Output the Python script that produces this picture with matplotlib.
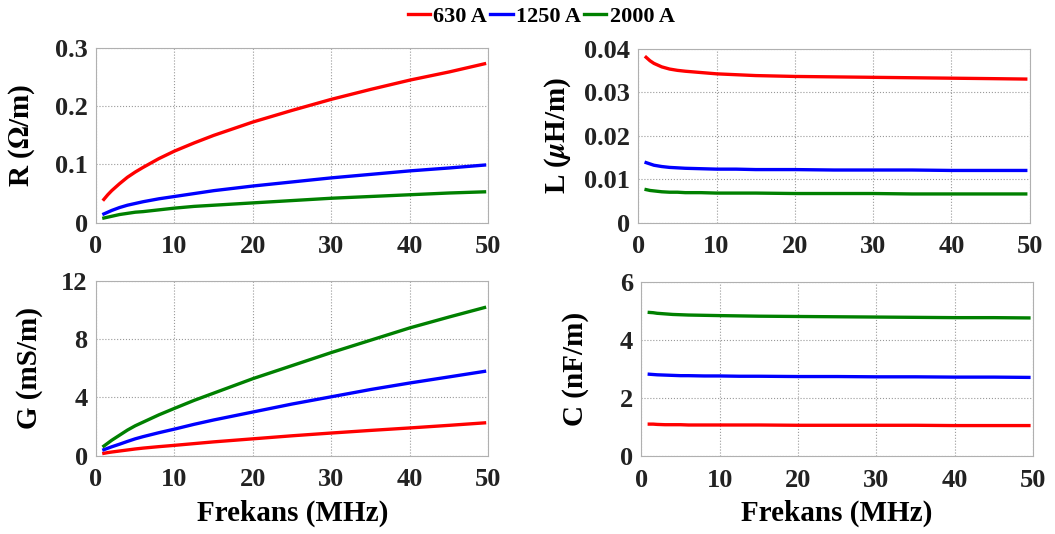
import matplotlib
matplotlib.use("Agg")
import matplotlib.pyplot as plt
from matplotlib.lines import Line2D

plt.rcParams['font.family'] = ['Liberation Serif', 'DejaVu Serif']
plt.rcParams['font.weight'] = 'bold'
plt.rcParams['mathtext.fontset'] = 'stix'

# frequency samples (MHz)
freq = [1, 1.5, 2, 3, 4, 5, 6, 8, 10, 12.5, 15, 20, 25, 30, 35, 40, 45, 49.5]

series_names = ['630 A', '1250 A', '2000 A']
colors = ['#ff0000', '#0000ff', '#008000']

# R (Ohm/m)
R_630 = [0.040, 0.048, 0.055, 0.067, 0.078, 0.087, 0.095, 0.110, 0.123, 0.137, 0.150, 0.173, 0.193, 0.212, 0.229, 0.245, 0.259, 0.273]
R_1250 = [0.015, 0.018, 0.021, 0.026, 0.030, 0.033, 0.036, 0.041, 0.045, 0.050, 0.055, 0.063, 0.070, 0.077, 0.083, 0.089, 0.094, 0.099]
R_2000 = [0.008, 0.0095, 0.011, 0.014, 0.016, 0.018, 0.019, 0.022, 0.025, 0.028, 0.030, 0.034, 0.038, 0.042, 0.045, 0.048, 0.051, 0.053]

# L (uH/m)
L_630 = [0.0380, 0.0372, 0.0366, 0.0358, 0.0353, 0.0350, 0.0348, 0.0345, 0.0342, 0.0340, 0.0338, 0.0336, 0.0335, 0.0334, 0.0333, 0.0332, 0.0331, 0.0330]
L_1250 = [0.0138, 0.0135, 0.0132, 0.0129, 0.0127, 0.0126, 0.0125, 0.0124, 0.0123, 0.0123, 0.0122, 0.0122, 0.0121, 0.0121, 0.0121, 0.0120, 0.0120, 0.0120]
L_2000 = [0.0076, 0.0074, 0.0073, 0.0071, 0.0070, 0.0070, 0.0069, 0.0069, 0.0068, 0.0068, 0.0068, 0.0067, 0.0067, 0.0067, 0.0066, 0.0066, 0.0066, 0.0066]

# G (mS/m)
G_630 = [0.15, 0.20, 0.24, 0.31, 0.38, 0.45, 0.51, 0.61, 0.70, 0.82, 0.94, 1.15, 1.36, 1.55, 1.73, 1.90, 2.08, 2.25]
G_1250 = [0.40, 0.50, 0.60, 0.78, 0.97, 1.15, 1.30, 1.57, 1.82, 2.15, 2.45, 3.00, 3.55, 4.05, 4.55, 5.00, 5.42, 5.80]
G_2000 = [0.65, 0.85, 1.05, 1.40, 1.75, 2.05, 2.30, 2.80, 3.25, 3.80, 4.30, 5.30, 6.20, 7.10, 7.95, 8.80, 9.55, 10.20]

# C (nF/m)
C_630 = [1.10, 1.10, 1.09, 1.08, 1.08, 1.08, 1.07, 1.07, 1.07, 1.07, 1.07, 1.06, 1.06, 1.06, 1.06, 1.05, 1.05, 1.05]
C_1250 = [2.82, 2.81, 2.80, 2.79, 2.78, 2.77, 2.77, 2.76, 2.76, 2.75, 2.75, 2.74, 2.74, 2.73, 2.73, 2.72, 2.72, 2.71]
C_2000 = [4.95, 4.94, 4.92, 4.90, 4.88, 4.87, 4.86, 4.85, 4.84, 4.83, 4.82, 4.81, 4.80, 4.79, 4.78, 4.77, 4.77, 4.76]

panels = [
    ([R_630, R_1250, R_2000], 'R ($\\Omega$/m)', [0, 0.1, 0.2, 0.3], ['0', '0.1', '0.2', '0.3']),
    ([L_630, L_1250, L_2000], 'L ($\\mu$H/m)', [0, 0.01, 0.02, 0.03, 0.04], ['0', '0.01', '0.02', '0.03', '0.04']),
    ([G_630, G_1250, G_2000], 'G (mS/m)', [0, 4, 8, 12], ['0', '4', '8', '12']),
    ([C_630, C_1250, C_2000], 'C (nF/m)', [0, 2, 4, 6], ['0', '2', '4', '6']),
]

positions = [
    [0.091, 0.583, 0.372, 0.327],
    [0.605, 0.583, 0.371, 0.326],
    [0.091, 0.147, 0.372, 0.326],
    [0.608, 0.146, 0.371, 0.326],
]
label_x = [-0.15, -0.166, -0.135, -0.133]

fig = plt.figure(figsize=(10.55, 5.34), dpi=100)

for i, (data, ylabel, yticks, ylabels) in enumerate(panels):
    ax = fig.add_axes(positions[i])
    for vals, c in zip(data, colors):
        ax.plot(freq, vals, color=c, linewidth=2.4)
    ax.set_xlim(0, 50)
    ax.set_ylim(yticks[0], yticks[-1])
    ax.set_xticks([0, 10, 20, 30, 40, 50])
    ax.set_xticklabels(['0', '10', '20', '30', '40', '50'], fontsize=19, fontweight='bold')
    ax.set_yticks(yticks)
    ax.set_yticklabels(ylabels, fontsize=19, fontweight='bold')
    ax.set_ylabel(ylabel, fontsize=21, fontweight='bold')
    ax.yaxis.set_label_coords(label_x[i], 0.5)
    ax.grid(True, linestyle=':', color='#999999', linewidth=0.8)
    ax.tick_params(axis='x', length=0, pad=9, colors='#222222')
    ax.tick_params(axis='y', length=0, pad=6, colors='#222222')
    for s in ax.spines.values():
        s.set_color('#b0b0b0')
    if i >= 2:
        ax.set_xlabel('Frekans (MHz)', fontsize=21, fontweight='bold', labelpad=6)

handles = [Line2D([0], [0], color=c, linewidth=2.4) for c in colors]
fig.legend(handles, series_names, loc='upper center', bbox_to_anchor=(0.513, 1.025), ncol=3,
           frameon=False, handlelength=1.0, handletextpad=0.15, columnspacing=0.15,
           prop={'size': 16, 'weight': 'bold'})

fig.savefig('out.png', dpi=100)
